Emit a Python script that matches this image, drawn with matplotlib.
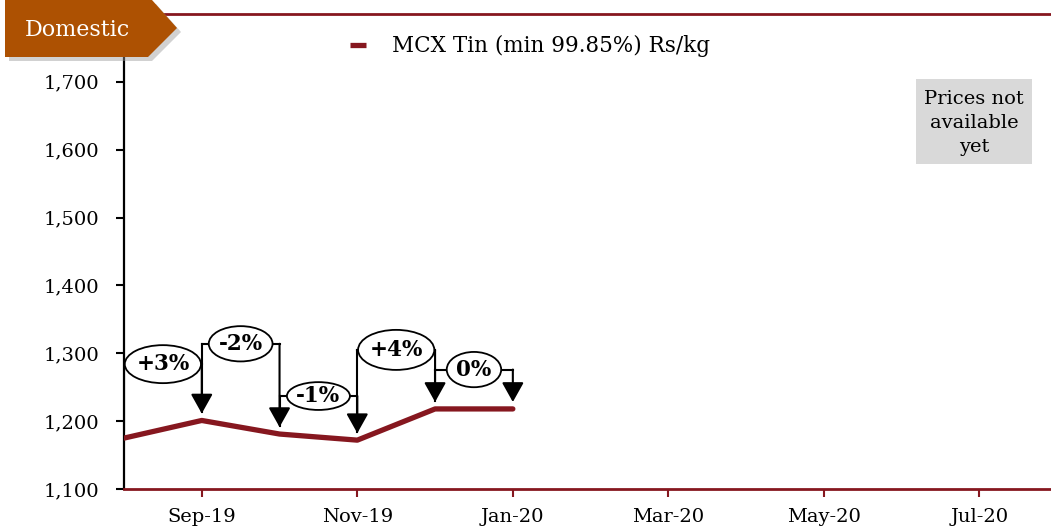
import matplotlib.pyplot as plt
from matplotlib.patches import Ellipse, Polygon, Rectangle

# data: monthly MCX Tin price, Rs/kg
months = ["Aug-19", "Sep-19", "Oct-19", "Nov-19", "Dec-19", "Jan-20",
          "Feb-20", "Mar-20", "Apr-20", "May-20", "Jun-20", "Jul-20"]
price = [1175, 1201, 1181, 1172, 1218, 1218]
changes = ["+3%", "-2%", "-1%", "+4%", "0%"]

# callout layout (level in Rs/kg, ellipse size in months / Rs/kg)
callout_level = [1284, 1314, 1237, 1305, 1276]
callout_w = [0.98, 0.82, 0.81, 0.98, 0.70]
callout_h = [56, 52, 41, 59, 52]

W, H = 1051, 529
RED = "#86171F"
plt.rcParams["font.family"] = ["DejaVu Serif"]


def px(x, y):
    # pixel position -> figure fraction
    return (x / W, 1 - y / H)


fig = plt.figure(figsize=(W / 100, H / 100), dpi=100)
ax = fig.add_axes([124 / W, 40 / H, (W - 124) / W, (489 - 14) / H])

x = list(range(len(price)))
ax.plot(x, price, color=RED, lw=3.8, solid_capstyle="round", zorder=3,
        label="MCX Tin (min 99.85%) Rs/kg")

# callouts: ellipse between two months, arms down to both points
for i, txt in enumerate(changes):
    lvl = callout_level[i]
    ax.plot([i, i + 1], [lvl, lvl], color="black", lw=1.5, zorder=4)
    ax.plot([i, i], [lvl, price[i] + 12], color="black", lw=1.5, zorder=4)
    ax.annotate("", xy=(i + 1, price[i + 1]), xytext=(i + 1, lvl),
                arrowprops=dict(arrowstyle="-|>,head_length=0.5,head_width=0.28",
                                color="black", lw=1.5, mutation_scale=24,
                                shrinkA=0, shrinkB=5), zorder=4)
    ax.add_patch(Ellipse((i + 0.5, lvl), callout_w[i], callout_h[i],
                         facecolor="white", edgecolor="black", lw=1.3, zorder=5))
    ax.text(i + 0.5, lvl, txt, ha="center", va="center", fontsize=15.5,
            fontweight="bold", zorder=6)

ax.set_xlim(0, 11.92)
ax.set_ylim(1100, 1800)
ax.set_xticks(range(1, 12, 2))
ax.set_xticklabels(months[1::2])
ax.set_yticks(range(1100, 1800, 100))
ax.set_yticklabels([f"{v:,}" for v in range(1100, 1800, 100)])

ax.spines["right"].set_visible(False)
ax.spines["top"].set_color(RED)
ax.spines["top"].set_linewidth(2)
ax.spines["bottom"].set_color(RED)
ax.spines["bottom"].set_linewidth(2)
ax.spines["left"].set_color("black")
ax.spines["left"].set_linewidth(1.6)
ax.tick_params(axis="y", length=6, width=1.5, pad=12, labelsize=14)
ax.tick_params(axis="x", length=6, width=1.5, pad=8, labelsize=14,
               color=RED, labelcolor="black")

leg = ax.legend(loc="center left", bbox_to_anchor=px(350, 46),
                bbox_transform=fig.transFigure, frameon=False, fontsize=15.5,
                handlelength=0.75, handletextpad=1.2, borderpad=0, borderaxespad=0)
leg.get_lines()[0].set_solid_capstyle("butt")

# "Domestic" badge with shadow
badge = [(5, 0), (152, 0), (177, 28), (148, 57), (5, 57)]
fig.add_artist(Polygon([px(a + 4, b + 4) for a, b in badge], closed=True,
                       transform=fig.transFigure, facecolor="#999999",
                       alpha=0.45, edgecolor="none", zorder=8))
fig.add_artist(Polygon([px(a, b) for a, b in badge], closed=True,
                       transform=fig.transFigure, facecolor="#AD5102",
                       edgecolor="none", zorder=9))
fig.text(*px(77, 30), "Domestic", color="white", fontsize=16,
         ha="center", va="center", zorder=10)

# grey note box
x0, y0 = px(916, 164)
fig.add_artist(Rectangle((x0, y0), 116 / W, 85 / H, transform=fig.transFigure,
                         facecolor="#D9D9D9", edgecolor="none", zorder=8))
fig.text(*px(974, 123), "Prices not\navailable\nyet", ha="center", va="center",
         fontsize=14, linespacing=1.45, zorder=9)

fig.savefig("out.png", dpi=100)
